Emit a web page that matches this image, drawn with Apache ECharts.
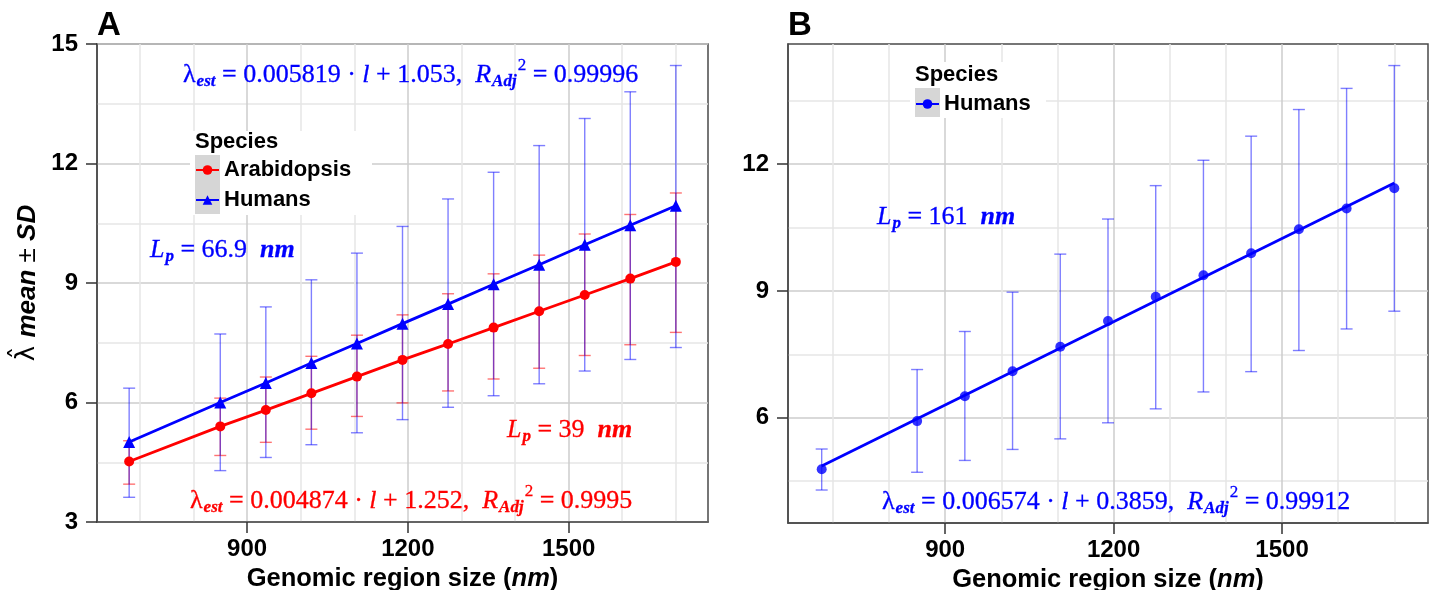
<!DOCTYPE html>
<html><head><meta charset="utf-8">
<script src="https://cdn.jsdelivr.net/npm/echarts@6/dist/echarts.min.js"></script>
<style>
html,body{margin:0;padding:0;background:#fff;}
#a{position:absolute;left:0;top:0;width:720px;height:590px;}
#b{position:absolute;left:720px;top:0;width:717px;height:590px;}
</style>
</head><body><div id="a"></div><div id="b"></div>
<script>
// ---------- data ----------
const regionSize = [680, 850, 935, 1020, 1105, 1190, 1275, 1360, 1445, 1530, 1615, 1700];

// Panel A – Arabidopsis
const arabMean = [4.52, 5.40, 5.81, 6.23, 6.65, 7.07, 7.47, 7.88, 8.29, 8.70, 9.11, 9.53];
const arabLow  = [3.95, 4.67, 5.00, 5.33, 5.65, 5.99, 6.29, 6.59, 6.86, 7.18, 7.45, 7.76];
const arabHigh = [5.04, 6.11, 6.64, 7.16, 7.69, 8.20, 8.73, 9.23, 9.70, 10.23, 10.72, 11.26];
// Panel A – Humans
const humAMean = [5.01, 6.00, 6.49, 6.99, 7.48, 7.98, 8.47, 8.97, 9.46, 9.96, 10.45, 10.94];
const humALow  = [3.62, 4.29, 4.62, 4.94, 5.24, 5.57, 5.88, 6.17, 6.47, 6.79, 7.08, 7.38];
const humAHigh = [6.36, 7.72, 8.40, 9.08, 9.75, 10.42, 11.11, 11.78, 12.45, 13.13, 13.80, 14.46];
// Panel B – Humans
const humBMean = [4.78, 5.92, 6.51, 7.10, 7.68, 8.29, 8.86, 9.37, 9.89, 10.46, 10.95, 11.43];
const humBLow  = [4.29, 4.71, 4.99, 5.25, 5.50, 5.88, 6.21, 6.61, 7.09, 7.59, 8.10, 8.52];
const humBHigh = [5.26, 7.14, 8.04, 8.97, 9.87, 10.70, 11.49, 12.09, 12.66, 13.29, 13.79, 14.33];
const humBFitX = [680, 1700];
const humBFitY = [4.86, 11.55];

// axis ticks / grid lines
const xTicks = [900, 1200, 1500];
const xMinorGrid = [700, 800, 1000, 1100, 1300, 1400, 1600, 1700];
const yTicksA = [3, 6, 9, 12, 15];
const yTicksB = [6, 9, 12];
const yMinorGrid = [4.5, 7.5, 10.5, 13.5];
const xRange = [620, 1760];
const yRangeA = [3, 15];
const yRangeB = [3.51, 14.84];

// ---------- styling ----------
const SANS = '"Liberation Sans", Arial, Helvetica, sans-serif';
const SERIF = '"Liberation Serif", "Times New Roman", serif';
const RED = '#ff0000', BLUE = '#0000ff';
const AXIS_COL = '#4a4a4a';

function zip(xs, ys) { return xs.map((x, i) => [x, ys[i]]); }

function errorBars(name, lows, highs, color) {
  return {
    name, type: 'custom', z: 1, silent: true,
    data: regionSize.map((x, i) => [x, lows[i], highs[i]]),
    encode: { x: 0, y: [1, 2] },
    renderItem(params, api) {
      const top = api.coord([api.value(0), api.value(2)]);
      const bot = api.coord([api.value(0), api.value(1)]);
      const cap = 6;
      const style = { stroke: color, lineWidth: 1.4 };
      return { type: 'group', children: [
        { type: 'line', shape: { x1: top[0], y1: top[1], x2: bot[0], y2: bot[1] }, style },
        { type: 'line', shape: { x1: top[0] - cap, y1: top[1], x2: top[0] + cap, y2: top[1] }, style },
        { type: 'line', shape: { x1: bot[0] - cap, y1: bot[1], x2: bot[0] + cap, y2: bot[1] }, style }
      ]};
    }
  };
}

function makeAxes(yRange, yTicks, yName) {
  const lbl = { color: '#000', fontFamily: SANS, fontWeight: 'bold', fontSize: 24, formatter: v => String(v) };
  const xAxis = [{
    type: 'value', min: xRange[0], max: xRange[1], position: 'bottom',
    axisLine: { show: true, onZero: false, lineStyle: { color: AXIS_COL, width: 1.5 } },
    axisTick: { show: true, customValues: xTicks, length: 11, lineStyle: { color: '#333', width: 1.5 } },
    axisLabel: Object.assign({ customValues: xTicks, margin: 15 }, lbl),
    splitLine: { show: true, lineStyle: { color: '#cdcdcd', width: 1.5 } },
    name: '{a|Genomic region size (}{b|nm}{a|)}',
    nameLocation: 'middle', nameGap: 39,
    nameTextStyle: { fontWeight: 'bold', fontFamily: SANS, fontSize: 25.5, color: '#000', rich: {
      a: { color: '#000', fontFamily: SANS, fontWeight: 'bold', fontSize: 25.5 },
      b: { color: '#000', fontFamily: SANS, fontWeight: 'bold', fontStyle: 'italic', fontSize: 25.5 }
    } }
  }, {
    type: 'value', min: xRange[0], max: xRange[1], position: 'top',
    axisLine: { show: false }, axisTick: { show: false, customValues: xMinorGrid },
    axisLabel: { show: false },
    splitLine: { show: true, lineStyle: { color: '#e6e6e6', width: 1.5 } }
  }];
  const y0 = {
    type: 'value', min: yRange[0], max: yRange[1], position: 'left',
    axisLine: { show: true, onZero: false, lineStyle: { color: AXIS_COL, width: 1.5 } },
    axisTick: { show: true, customValues: yTicks, length: 11, lineStyle: { color: '#333', width: 1.5 } },
    axisLabel: Object.assign({ customValues: yTicks, margin: 19 }, lbl),
    splitLine: { show: true, lineStyle: { color: '#cdcdcd', width: 1.5 } }
  };
  if (yName) {
    Object.assign(y0, {
      name: yName, nameLocation: 'middle', nameGap: 38, nameRotate: 90,
      nameTextStyle: { fontWeight: 'bold', fontFamily: SANS, fontSize: 26, color: '#000', rich: {
        l: { color: '#000', fontFamily: '"DejaVu Sans", sans-serif', fontWeight: 'normal', fontSize: 26 },
        bi: { color: '#000', fontFamily: SANS, fontWeight: 'bold', fontStyle: 'italic', fontSize: 26 },
        n: { color: '#000', fontFamily: SANS, fontWeight: 'normal', fontSize: 26 }
      } }
    });
  }
  const yAxis = [y0, {
    type: 'value', min: yRange[0], max: yRange[1], position: 'right',
    axisLine: { show: false }, axisTick: { show: false, customValues: yMinorGrid },
    axisLabel: { show: false },
    splitLine: { show: true, lineStyle: { color: '#e6e6e6', width: 1.5 } }
  }];
  return { xAxis, yAxis };
}

function eqRich(color) {
  const base = { fill: color, fontFamily: SERIF, fontSize: 26 };
  return {
    m: Object.assign({}, base),
    i: Object.assign({}, base, { fontStyle: 'italic' }),
    bi: Object.assign({}, base, { fontStyle: 'italic', fontWeight: 'bold' }),
    s: Object.assign({}, base, { fontSize: 17, fontStyle: 'italic', fontWeight: 'bold', padding: [14, 0, 0, 1] }),
    p: Object.assign({}, base, { fontSize: 17, padding: [0, 0, 18, 1] })
  };
}
function eqText(x, y, text, color) {
  return { type: 'text', x, y, z: 5,
    style: { text, rich: eqRich(color), fill: color, align: 'left', verticalAlign: 'middle',
             fontFamily: SERIF, fontSize: 26, stroke: color, lineWidth: 0.3 } };
}
function legendBox(x, y, w, h, keyY, keyH, titleY) {
  return [
    { type: 'rect', z: 1, shape: { x, y, width: w, height: h }, style: { fill: '#ffffff' } },
    { type: 'rect', z: 1, shape: { x: x + 5, y: keyY, width: 25, height: keyH }, style: { fill: '#d6d6d6' } },
    { type: 'text', z: 1, x: x + 5, y: titleY,
      style: { text: 'Species', fill: '#000', fontFamily: SANS, fontWeight: 'bold', fontSize: 22,
               align: 'left', verticalAlign: 'middle' } }
  ];
}
const legendText = { color: '#000', fontFamily: SANS, fontWeight: 'bold', fontSize: 22, lineHeight: 24 };

// ---------- Panel A ----------
const chartA = echarts.init(document.getElementById('a'), null, { renderer: 'canvas' });
const axA = makeAxes(yRangeA, yTicksA, '{l|λ̂ }{bi|mean}{n| ± }{bi|SD}');
chartA.setOption({
  animation: false,
  backgroundColor: '#fff',
  grid: { left: 97, top: 44, right: 12, bottom: 68, show: true, borderColor: AXIS_COL, borderWidth: 1.5,
          containLabel: false, outerBoundsMode: 'none' },
  xAxis: axA.xAxis, yAxis: axA.yAxis,
  legend: {
    data: ['Arabidopsis', 'Humans'], orient: 'vertical', left: 195, top: 158, padding: 0,
    itemWidth: 23, itemHeight: 12, itemGap: 6, textStyle: legendText, selectedMode: false
  },
  graphic: [
    { type: 'text', x: 97, y: 26, style: { text: 'A', fill: '#000', fontFamily: SANS, fontWeight: 'bold', fontSize: 33, verticalAlign: 'middle' } },
    ...legendBox(190, 131, 182, 84, 155, 59, 142),
    eqText(183, 75, '{m|λ}{s|est}{m| = 0.005819 · }{i|l}{m| + 1.053,  }{i|R}{s|Adj}{p|2}{m| = 0.99996}', BLUE),
    eqText(150, 250, '{i|L}{s|p}{m| = 66.9  }{bi|nm}', BLUE),
    eqText(507, 430, '{i|L}{s|p}{m| = 39  }{bi|nm}', RED),
    eqText(190, 501, '{m|λ}{s|est}{m| = 0.004874 · }{i|l}{m| + 1.252,  }{i|R}{s|Adj}{p|2}{m| = 0.9995}', RED)
  ],
  series: [
    errorBars('Arabidopsis SD', arabLow, arabHigh, 'rgba(255,0,0,0.55)'),
    errorBars('Humans SD', humALow, humAHigh, 'rgba(0,0,255,0.5)'),
    { name: 'Arabidopsis', type: 'line', z: 3, data: zip(regionSize, arabMean), symbol: 'circle', symbolSize: 10,
      itemStyle: { color: RED }, lineStyle: { color: RED, width: 2.8 } },
    { name: 'Humans', type: 'line', z: 3, data: zip(regionSize, humAMean), symbol: 'triangle', symbolSize: 12,
      itemStyle: { color: BLUE }, lineStyle: { color: BLUE, width: 2.8 } }
  ]
});

// ---------- Panel B ----------
const chartB = echarts.init(document.getElementById('b'), null, { renderer: 'canvas' });
const axB = makeAxes(yRangeB, yTicksB, null);
chartB.setOption({
  animation: false,
  backgroundColor: '#fff',
  grid: { left: 68, top: 44, right: 9, bottom: 67, show: true, borderColor: AXIS_COL, borderWidth: 1.5,
          containLabel: false, outerBoundsMode: 'none' },
  xAxis: axB.xAxis, yAxis: axB.yAxis,
  legend: {
    data: ['Humans'], orient: 'vertical', left: 195, top: 92, padding: 0,
    itemWidth: 23, itemHeight: 12, itemGap: 6, textStyle: legendText, selectedMode: false
  },
  graphic: [
    { type: 'text', x: 68, y: 26, style: { text: 'B', fill: '#000', fontFamily: SANS, fontWeight: 'bold', fontSize: 33, verticalAlign: 'middle' } },
    ...legendBox(190, 62, 136, 56, 88, 29, 75),
    eqText(157, 217, '{i|L}{s|p}{m| = 161  }{bi|nm}', BLUE),
    eqText(162, 502, '{m|λ}{s|est}{m| = 0.006574 · }{i|l}{m| + 0.3859,  }{i|R}{s|Adj}{p|2}{m| = 0.99912}', BLUE)
  ],
  series: [
    errorBars('Humans SD', humBLow, humBHigh, 'rgba(0,0,255,0.5)'),
    { name: 'Humans', type: 'line', z: 3, data: zip(humBFitX, humBFitY), symbol: 'circle', showSymbol: false,
      itemStyle: { color: BLUE }, lineStyle: { color: BLUE, width: 2.8 } },
    { name: 'Humans points', type: 'scatter', z: 4, data: zip(regionSize, humBMean), symbol: 'circle', symbolSize: 10,
      itemStyle: { color: BLUE } }
  ]
});
</script>
</body></html>
